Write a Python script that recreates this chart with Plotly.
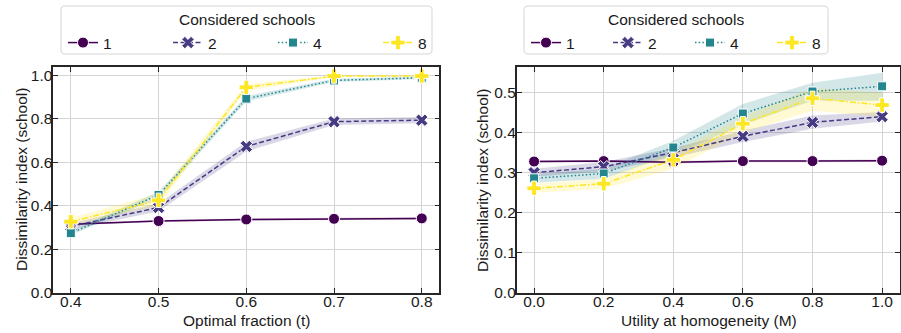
import re
import plotly.graph_objects as go

# ---------------- data ----------------
schools = ["1", "2", "4", "8"]
t_vals = [0.4, 0.5, 0.6, 0.7, 0.8]
left_mean = {
    "1": [0.315, 0.330, 0.337, 0.340, 0.342],
    "2": [0.305, 0.392, 0.673, 0.787, 0.794],
    "4": [0.274, 0.450, 0.893, 0.977, 0.989],
    "8": [0.327, 0.425, 0.945, 0.997, 0.997],
}
left_lo = {
    "1": [0.310, 0.325, 0.332, 0.335, 0.337],
    "2": [0.290, 0.375, 0.650, 0.772, 0.780],
    "4": [0.265, 0.435, 0.880, 0.970, 0.983],
    "8": [0.310, 0.400, 0.930, 0.993, 0.993],
}
left_hi = {
    "1": [0.320, 0.335, 0.342, 0.345, 0.347],
    "2": [0.320, 0.410, 0.695, 0.802, 0.808],
    "4": [0.285, 0.465, 0.905, 0.984, 0.995],
    "8": [0.345, 0.455, 0.960, 1.000, 1.000],
}
m_vals = [0.0, 0.2, 0.4, 0.6, 0.8, 1.0]
right_mean = {
    "1": [0.328, 0.329, 0.326, 0.329, 0.329, 0.330],
    "2": [0.300, 0.315, 0.350, 0.391, 0.426, 0.440],
    "4": [0.286, 0.298, 0.363, 0.448, 0.503, 0.516],
    "8": [0.261, 0.2725, 0.332, 0.4225, 0.486, 0.469],
}
right_lo = {
    "1": [0.325, 0.326, 0.323, 0.326, 0.326, 0.327],
    "2": [0.290, 0.303, 0.338, 0.377, 0.410, 0.428],
    "4": [0.275, 0.285, 0.345, 0.420, 0.480, 0.480],
    "8": [0.250, 0.260, 0.310, 0.400, 0.455, 0.440],
}
right_hi = {
    "1": [0.331, 0.332, 0.329, 0.332, 0.332, 0.333],
    "2": [0.310, 0.327, 0.362, 0.405, 0.443, 0.452],
    "4": [0.297, 0.310, 0.380, 0.472, 0.525, 0.550],
    "8": [0.272, 0.285, 0.352, 0.440, 0.512, 0.500],
}
left_yticks = [0.0, 0.2, 0.4, 0.6, 0.8, 1.0]
right_yticks = [0.0, 0.1, 0.2, 0.3, 0.4, 0.5]
right_xticks = [0.0, 0.2, 0.4, 0.6, 0.8, 1.0]
legend_title = "Considered schools"
x_titles = ["Optimal fraction (t)", "Utility at homogeneity (M)"]
y_title = "Dissimilarity index (school)"

# ---------------- styles ----------------
colors = {"1": "#440154", "2": "#463a83", "4": "#23868e", "8": "#fde725"}
fills = {"1": "rgba(68,1,84,0.2)", "2": "rgba(70,58,131,0.2)",
         "4": "rgba(35,134,142,0.2)", "8": "rgba(253,231,37,0.2)"}
dashes = {"1": "solid", "2": "5px,2.5px", "4": "1.5px,2.2px", "8": "6px,2px,1.5px,2px"}
symbols = {"1": "circle", "2": "x", "4": "square", "8": "cross"}
msize = {"1": 11, "2": 11, "4": 9, "8": 12}

FONT = "Liberation Sans, Arial, sans-serif"
TXT = "#1a1a1a"
FS = 15.5
W, H = 901, 333
fig = go.Figure()


def add_panel(xv, mean, lo, hi, xa, ya, leg):
    for s in schools:
        fig.add_trace(go.Scatter(x=xv, y=lo[s], xaxis=xa, yaxis=ya, mode="lines",
                                 line=dict(width=0), showlegend=False, hoverinfo="skip"))
        fig.add_trace(go.Scatter(x=xv, y=hi[s], xaxis=xa, yaxis=ya, mode="lines",
                                 line=dict(width=0), fill="tonexty", fillcolor=fills[s],
                                 showlegend=False, hoverinfo="skip"))
    for s in schools:
        fig.add_trace(go.Scatter(
            x=xv, y=mean[s], xaxis=xa, yaxis=ya, mode="lines+markers", name=s,
            legend=leg,
            line=dict(color=colors[s], width=1.5, dash=dashes[s]),
            marker=dict(symbol=symbols[s], size=msize[s], color=colors[s],
                        line=dict(color="white", width=1)),
        ))


add_panel(t_vals, left_mean, left_lo, left_hi, "x", "y", "legend")
add_panel(m_vals, right_mean, right_lo, right_hi, "x2", "y2", "legend2")

axis_common = dict(showline=True, linecolor="#262626", linewidth=1.6, mirror="ticks",
                   ticks="inside", ticklen=5, tickwidth=1.2, tickcolor="#262626",
                   showgrid=True, gridcolor="#d4d4d4", gridwidth=1, zeroline=False,
                   tickfont=dict(family=FONT, size=FS, color=TXT),
                   automargin=False)

y_dom = [1 - 292.7 / H, 1 - 66.7 / H]
left_dom = [53.3 / W, 439.3 / W]
right_dom = [516.7 / W, 899.5 / W]

legend_common = dict(orientation="h", yanchor="top", y=1 - 26 / H, xanchor="left",
                     font=dict(family=FONT, size=FS, color=TXT),
                     borderwidth=0, bgcolor="rgba(0,0,0,0)", traceorder="normal",
                     entrywidthmode="pixels", tracegroupgap=0)

fig.update_layout(
    width=W, height=H, margin=dict(l=0, r=0, t=0, b=0),
    paper_bgcolor="white", plot_bgcolor="white",
    xaxis=dict(domain=left_dom, range=[0.38, 0.82], tickvals=t_vals, tickformat=".1f",
               anchor="y", ticklabelstandoff=-6, **axis_common),
    yaxis=dict(domain=y_dom, range=[0, 1.04], tickvals=left_yticks, tickformat=".1f",
               anchor="x", ticklabelstandoff=-4, **axis_common),
    xaxis2=dict(domain=right_dom, range=[-0.05, 1.05], tickvals=right_xticks,
                tickformat=".1f", anchor="y2", ticklabelstandoff=-6, **axis_common),
    yaxis2=dict(domain=y_dom, range=[0, 0.565], tickvals=right_yticks, tickformat=".1f",
                anchor="x2", ticklabelstandoff=-4, **axis_common),
    legend=dict(x=63 / W, entrywidth=60, **legend_common),
    legend2=dict(x=526 / W, entrywidth=37, **legend_common),
)


def conv(m):
    px, py = float(m.group(1)), float(m.group(2))
    return f"{px / W:.5f},{1 - py / H:.5f}"


# legend boxes and titles
for (x0, x1) in [(61, 432), (524, 828)]:
    r = 4
    y0, y1 = 6, 54
    path = (f"M {x0 + r},{y0} L {x1 - r},{y0} Q {x1},{y0} {x1},{y0 + r} "
            f"L {x1},{y1 - r} Q {x1},{y1} {x1 - r},{y1} L {x0 + r},{y1} "
            f"Q {x0},{y1} {x0},{y1 - r} L {x0},{y0 + r} Q {x0},{y0} {x0 + r},{y0} Z")
    ppath = re.sub(r"([\d.]+),([\d.]+)", conv, path)
    fig.add_shape(type="path", path=ppath, xref="paper", yref="paper",
                  line=dict(color="#d5d5d5", width=1), fillcolor="rgba(255,255,255,0.8)",
                  layer="below")
    fig.add_annotation(text=legend_title, x=(x0 + x1) / 2 / W, y=1 - 19 / H,
                       xref="paper", yref="paper", showarrow=False,
                       xanchor="center", yanchor="middle",
                       font=dict(family=FONT, size=FS, color=TXT))

# axis titles
for xt, cx in zip(x_titles, [246.5, 709]):
    fig.add_annotation(text=xt, x=cx / W, y=1 - 320 / H, xref="paper", yref="paper",
                       showarrow=False, xanchor="center", yanchor="middle",
                       font=dict(family=FONT, size=FS, color=TXT))
for cx in [21, 482]:
    fig.add_annotation(text=y_title, x=cx / W, y=1 - 180 / H, xref="paper", yref="paper",
                       showarrow=False, xanchor="center", yanchor="middle", textangle=-90,
                       font=dict(family=FONT, size=FS, color=TXT))

fig.write_html("out.html", post_script="document.body.style.margin='0';",
               config={"displayModeBar": False})
